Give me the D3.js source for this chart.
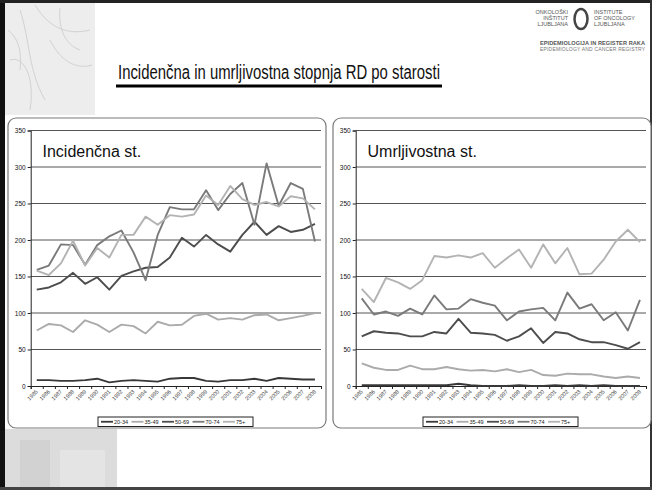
<!DOCTYPE html>
<html>
<head>
<meta charset="utf-8">
<script src="https://cdn.jsdelivr.net/npm/d3@7"></script>
<style>
body { margin: 0; background: #fff; }
svg text { font-family: "Liberation Sans", Arial, sans-serif; }
</style>
</head>
<body>
<div id="chart"></div>
<script>
// data
const years = ["1985","1986","1987","1988","1989","1990","1991","1992","1993","1994","1995","1996",
               "1997","1998","1999","2000","2001","2002","2003","2004","2005","2006","2007","2008"];
const ageGroups = ["20-34", "35-49", "50-69", "70-74", "75+"];
const yTicks = [0, 50, 100, 150, 200, 250, 300, 350];

const inc2034 = [8,8,7,7,8,10,5,7,8,7,6,10,11,11,7,6,8,8,10,7,11,10,9,9];
const inc3549 = [76,85,83,74,90,84,74,84,82,72,88,83,84,96,99,91,93,91,97,98,90,93,96,100];
const inc5069 = [132,135,142,155,140,149,132,151,157,162,163,176,203,191,207,194,184,207,225,207,219,211,214,222];
const inc7074 = [159,165,194,193,166,193,205,213,183,145,207,245,242,242,268,241,263,278,221,305,247,278,270,198];
const inc75   = [158,152,168,199,165,189,176,207,207,232,221,234,232,235,261,248,274,256,248,252,246,260,257,242];

const mort2034 = [1,1,1,1,1,1,1,1,3,1,0,0,0,1,0,0,1,0,1,0,1,0,0,0];
const mort3549 = [31,25,22,22,28,23,23,26,23,21,22,20,23,19,22,15,14,17,16,16,13,11,13,11];
const mort5069 = [68,75,73,72,68,68,74,72,92,73,72,70,62,68,79,59,74,72,64,60,60,56,51,60];
const mort7074 = [120,98,102,96,106,98,124,105,106,119,114,110,90,102,105,107,90,128,106,112,90,101,76,118];
const mort75   = [133,115,148,142,133,145,178,176,179,176,182,162,175,187,162,194,168,189,153,154,173,198,214,197];

const colors = ["#383838", "#ababab", "#4d4d4d", "#7a7a7a", "#b3b3b3"];

const W = 652, H = 490;
const svg = d3.select("#chart").append("svg")
    .attr("width", W)
    .attr("height", H);

// slide background bits
svg.append("rect").attr("x", 5).attr("y", 3).attr("width", 90).attr("height", 112).attr("fill", "#ededed");
const stems = [
    "M20,10 C30,40 28,70 45,100", "M35,5 C50,30 70,35 90,30", "M10,60 C25,55 35,80 30,110",
    "M50,40 C60,60 75,70 92,65", "M60,8 C58,30 66,45 80,50", "M8,30 C18,38 22,50 20,70"
];
svg.append("g").selectAll("path").data(stems).join("path")
    .attr("d", d => d).attr("fill", "none").attr("stroke", "#d2d2d2").attr("stroke-width", 1);
svg.append("rect").attr("x", 5).attr("y", 429).attr("width", 112).attr("height", 58).attr("fill", "#dcdcdc");
svg.append("rect").attr("x", 20).attr("y", 440).attr("width", 30).attr("height", 47).attr("fill", "#d2d2d2");
svg.append("rect").attr("x", 60).attr("y", 450).attr("width", 45).attr("height", 37).attr("fill", "#e4e4e4");

// slide frame
svg.append("rect").attr("x", 0).attr("y", 0).attr("width", 5).attr("height", H).attr("fill", "#111");
svg.append("rect").attr("x", 0).attr("y", 0).attr("width", W).attr("height", 3).attr("fill", "#222");
svg.append("rect").attr("x", W - 2).attr("y", 0).attr("width", 2).attr("height", H).attr("fill", "#333");
svg.append("rect").attr("x", 0).attr("y", H - 3).attr("width", W).attr("height", 3).attr("fill", "#444");

// logo
const logo = svg.append("g").attr("fill", "#555").attr("font-size", 5.5);
logo.append("text").attr("x", 568).attr("y", 14).attr("text-anchor", "end").text("ONKOLOŠKI");
logo.append("text").attr("x", 568).attr("y", 20).attr("text-anchor", "end").text("INŠTITUT");
logo.append("text").attr("x", 568).attr("y", 26).attr("text-anchor", "end").text("LJUBLJANA");
logo.append("text").attr("x", 594).attr("y", 14).text("INSTITUTE");
logo.append("text").attr("x", 594).attr("y", 20).text("OF ONCOLOGY");
logo.append("text").attr("x", 594).attr("y", 26).text("LJUBLJANA");
svg.append("ellipse").attr("cx", 581).attr("cy", 19).attr("rx", 6.5).attr("ry", 10)
    .attr("fill", "none").attr("stroke", "#444").attr("stroke-width", 2.5);
svg.append("text").attr("x", 540).attr("y", 45).attr("font-size", 5.6).attr("font-weight", "bold")
    .attr("fill", "#555").attr("textLength", 105).text("EPIDEMIOLOGIJA IN REGISTER RAKA");
svg.append("text").attr("x", 540).attr("y", 51).attr("font-size", 5).attr("fill", "#777")
    .attr("textLength", 105).text("EPIDEMIOLOGY AND CANCER REGISTRY");

// slide title
svg.append("text")
    .attr("x", 118).attr("y", 79)
    .attr("font-family", "DejaVu Sans, Verdana, sans-serif")
    .attr("font-size", 20)
    .attr("textLength", 322).attr("lengthAdjust", "spacingAndGlyphs")
    .attr("fill", "#111")
    .text("Incidenčna in umrljivostna stopnja RD po starosti");
svg.append("line").attr("x1", 116).attr("x2", 442).attr("y1", 86).attr("y2", 86)
    .attr("stroke", "#000").attr("stroke-width", 3);

const panels = [
    { x: 8,   title: "Incidenčna st.",   series: [inc2034, inc3549, inc5069, inc7074, inc75] },
    { x: 333, title: "Umrljivostna st.", series: [mort2034, mort3549, mort5069, mort7074, mort75] }
];

const y_scale = d3.scaleLinear().domain([0, 350]).range([386, 130.5]);

panels.forEach(p => {
    const g = svg.append("g").attr("transform", "translate(" + p.x + ",0)");

    g.append("rect")
        .attr("x", 0).attr("y", 118).attr("width", 318).attr("height", 310)
        .attr("rx", 8)
        .attr("fill", "#fff").attr("stroke", "#7a7a7a").attr("stroke-width", 1.2);

    const x0 = 22.7, x1 = 313;
    const x_scale = d3.scaleBand().domain(years).range([x0, x1]);
    const bw = x_scale.bandwidth();
    const x_ticks = d3.scaleLinear().domain([0, years.length]).range([x0, x1]);

    // grid
    g.append("g").selectAll("line").data(yTicks.filter(d => d > 0)).join("line")
        .attr("x1", x0).attr("x2", x1)
        .attr("y1", d => y_scale(d)).attr("y2", d => y_scale(d))
        .attr("stroke", "#555").attr("stroke-width", 1);

    const y_axis = d3.axisLeft(y_scale).tickValues(yTicks).tickSize(3).tickPadding(2);
    g.append("g").attr("class", "y axis")
        .attr("transform", "translate(" + x0 + ",0)")
        .call(y_axis)
        .call(a => a.selectAll("text").attr("font-size", 6.5).attr("fill", "#111"))
        .call(a => a.selectAll("path, line").attr("stroke", "#222"));

    const x_axis = d3.axisBottom(x_ticks).tickValues(d3.range(years.length + 1)).tickFormat("").tickSize(3);
    g.append("g").attr("class", "x axis")
        .attr("transform", "translate(0," + y_scale(0) + ")")
        .call(x_axis)
        .call(a => a.selectAll("path, line").attr("stroke", "#222"));

    g.append("g").selectAll("text").data(years).join("text")
        .attr("transform", d => "translate(" + (x_scale(d) + bw / 2 + 1.5) + "," + (y_scale(0) + 6) + ") rotate(-45)")
        .attr("text-anchor", "end")
        .attr("font-size", 5.5)
        .attr("fill", "#333")
        .text(d => d);

    const line = d3.line()
        .x((d, i) => x_scale(years[i]) + bw / 2)
        .y(d => y_scale(d));

    g.append("g").selectAll("path").data(p.series).join("path")
        .attr("d", d => line(d))
        .attr("fill", "none")
        .attr("stroke", (d, i) => colors[i])
        .attr("stroke-width", 1.9)
        .attr("stroke-linejoin", "round");

    g.append("text")
        .attr("x", 34.5).attr("y", 157)
        .attr("font-size", 16).attr("fill", "#111")
        .text(p.title);

    // legend
    const lg = g.append("g").attr("transform", "translate(90,417)");
    lg.append("rect").attr("width", 155).attr("height", 9.5)
        .attr("fill", "#fff").attr("stroke", "#222").attr("stroke-width", 1);
    const item = lg.selectAll("g").data(ageGroups).join("g")
        .attr("transform", (d, i) => "translate(" + (3 + i * 30.5) + ",0)");
    item.append("line").attr("x1", 0).attr("x2", 12).attr("y1", 4.75).attr("y2", 4.75)
        .attr("stroke", (d, i) => colors[i]).attr("stroke-width", 1.8);
    item.append("text").attr("x", 13).attr("y", 7).attr("font-size", 5.5).attr("fill", "#222").text(d => d);
});
</script>
</body>
</html>
